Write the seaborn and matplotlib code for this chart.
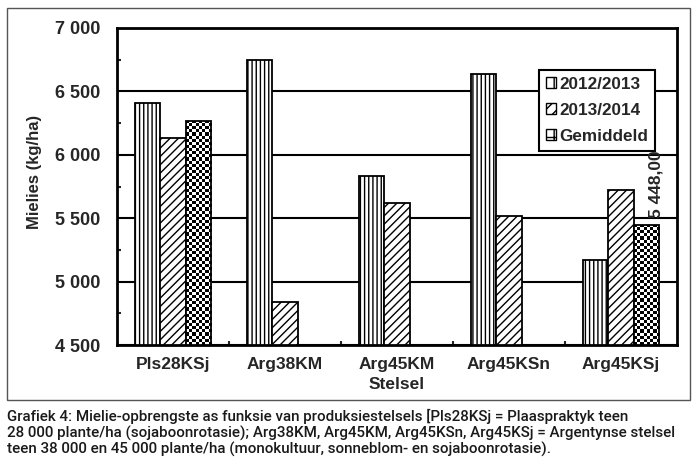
import matplotlib
matplotlib.use("Agg")
import matplotlib.pyplot as plt
import matplotlib.ticker as mticker
from matplotlib.patches import Rectangle, Patch
import numpy as np
import pandas as pd
import seaborn as sns

stelsels = ["Pls28KSj", "Arg38KM", "Arg45KM", "Arg45KSn", "Arg45KSj"]
seasons = ["2012/2013", "2013/2014", "Gemiddeld"]
yield_2012 = [6410, 6750, 5830, 6640, 5170]
yield_2013 = [6130, 4840, 5620, 5520, 5720]
yield_avg = [6270, np.nan, np.nan, np.nan, 5448]
avg_label = "5 448,00"

caption = ("Grafiek 4: Mielie-opbrengste as funksie van produksiestelsels [Pls28KSj = Plaaspraktyk teen\n"
           "28 000 plante/ha (sojaboonrotasie); Arg38KM, Arg45KM, Arg45KSn, Arg45KSj = Argentynse stelsel\n"
           "teen 38 000 en 45 000 plante/ha (monokultuur, sonneblom- en sojaboonrotasie).")

rows = []
for i, s in enumerate(stelsels):
    for season, vals in zip(seasons, [yield_2012, yield_2013, yield_avg]):
        if not np.isnan(vals[i]):
            rows.append({"Stelsel": s, "Seisoen": season, "Opbrengs": vals[i]})
df = pd.DataFrame(rows)

sns.set_style("white")
plt.rcParams["font.family"] = ["Liberation Sans", "DejaVu Sans"]
plt.rcParams["hatch.color"] = "black"
plt.rcParams["hatch.linewidth"] = 1.0

fig = plt.figure(figsize=(7, 4.75), dpi=100)
ax = fig.add_axes([117 / 700, 1 - 345 / 475, 560 / 700, 317 / 475])

sns.barplot(data=df, x="Stelsel", y="Opbrengs", hue="Seisoen", order=stelsels,
            hue_order=seasons, palette=["white"] * 3, edgecolor="black",
            linewidth=1.3, width=0.67, errorbar=None, ax=ax, legend=False)

ax.set_ylim(4500, 7000)
ax.set_xlim(-0.5, 4.5)

hatches = ["||||", "////"]
for cont, h in zip(ax.containers[:2], hatches):
    for p in cont:
        if p is not None:
            p.set_hatch(h)

# checkerboard fill for the average bars
avg_bars = [p for p in ax.containers[2] if p is not None]
px_per_unit = 317 / 2500
for p in avg_bars:
    x0, w, h = p.get_x(), p.get_width(), p.get_height()
    ny = max(1, int(round((h - 4500) * px_per_unit / 3.1)))
    nx = 8
    checker = (np.add.outer(np.arange(ny), np.arange(nx)) % 2).astype(float)
    zb = p.get_zorder()
    im = ax.imshow(checker, extent=(x0, x0 + w, 4500, h), cmap="gray",
                   interpolation="nearest", aspect="auto", zorder=zb + 0.05)
    im.set_clip_path(p)
    p.set_facecolor("none")
    p.set_zorder(zb + 0.1)

ax.set_ylim(4500, 7000)
ax.set_xlim(-0.5, 4.5)

# rotated value label on the last average bar
last = max(avg_bars, key=lambda p: p.get_x())
ax.annotate(avg_label, (last.get_x() + last.get_width() / 2, last.get_height()),
            xytext=(7, 5), textcoords="offset points", rotation=90,
            ha="center", va="bottom", fontsize=12.5, fontweight="bold")

ax.yaxis.set_major_locator(mticker.MultipleLocator(500))
ax.yaxis.set_minor_locator(mticker.MultipleLocator(250))
ax.yaxis.set_major_formatter(mticker.FuncFormatter(lambda v, p: f"{int(v):,}".replace(",", " ")))
ax.xaxis.set_minor_locator(mticker.FixedLocator([0.5, 1.5, 2.5, 3.5]))
ax.tick_params(axis="y", which="major", direction="in", length=0, labelsize=13, pad=12)
ax.tick_params(axis="y", which="minor", direction="in", length=3, width=1.5, left=True)
ax.tick_params(axis="x", which="major", length=0, labelsize=12.5, pad=9)
ax.tick_params(axis="x", which="minor", direction="in", length=3, width=1.5, bottom=True)
for lab in ax.get_xticklabels() + ax.get_yticklabels():
    lab.set_fontweight("bold")

ax.grid(axis="y", color="black", linewidth=1.5)
ax.set_axisbelow(True)
for sp in ax.spines.values():
    sp.set_visible(True)
    sp.set_color("black")
    sp.set_linewidth(2)

ax.set_ylabel("Mielies (kg/ha)", fontsize=12, fontweight="bold")
ax.yaxis.set_label_coords(-0.134, 0.546)
ax.set_xlabel("Stelsel", fontsize=12.5, fontweight="bold", labelpad=3)

handles = [Patch(facecolor="white", edgecolor="black", hatch=h, linewidth=1)
           for h in ["||", "///", "++"]]
leg = ax.legend(handles, seasons, loc="upper left", bbox_to_anchor=(0.754, 0.868),
                frameon=True, fancybox=False, edgecolor="black", framealpha=1,
                prop={"weight": "bold", "size": 12.3}, handlelength=0.6, handleheight=0.6,
                handletextpad=0.2, borderpad=0.4, labelspacing=0.65, borderaxespad=0)
leg.get_frame().set_linewidth(1.5)

fig.patches.append(Rectangle((7 / 700, 1 - 400 / 475), 683 / 700, 392 / 475,
                             transform=fig.transFigure, fill=False,
                             edgecolor="#555555", linewidth=1))

fig.text(7 / 700, 1 - 409 / 475, caption, ha="left", va="top", fontsize=10.9,
         family=["Roboto", "Liberation Sans", "DejaVu Sans"],
         fontweight="medium", linespacing=1.12, color="#1a1a1a")

fig.savefig("out.png", dpi=100)
plt.close(fig)
